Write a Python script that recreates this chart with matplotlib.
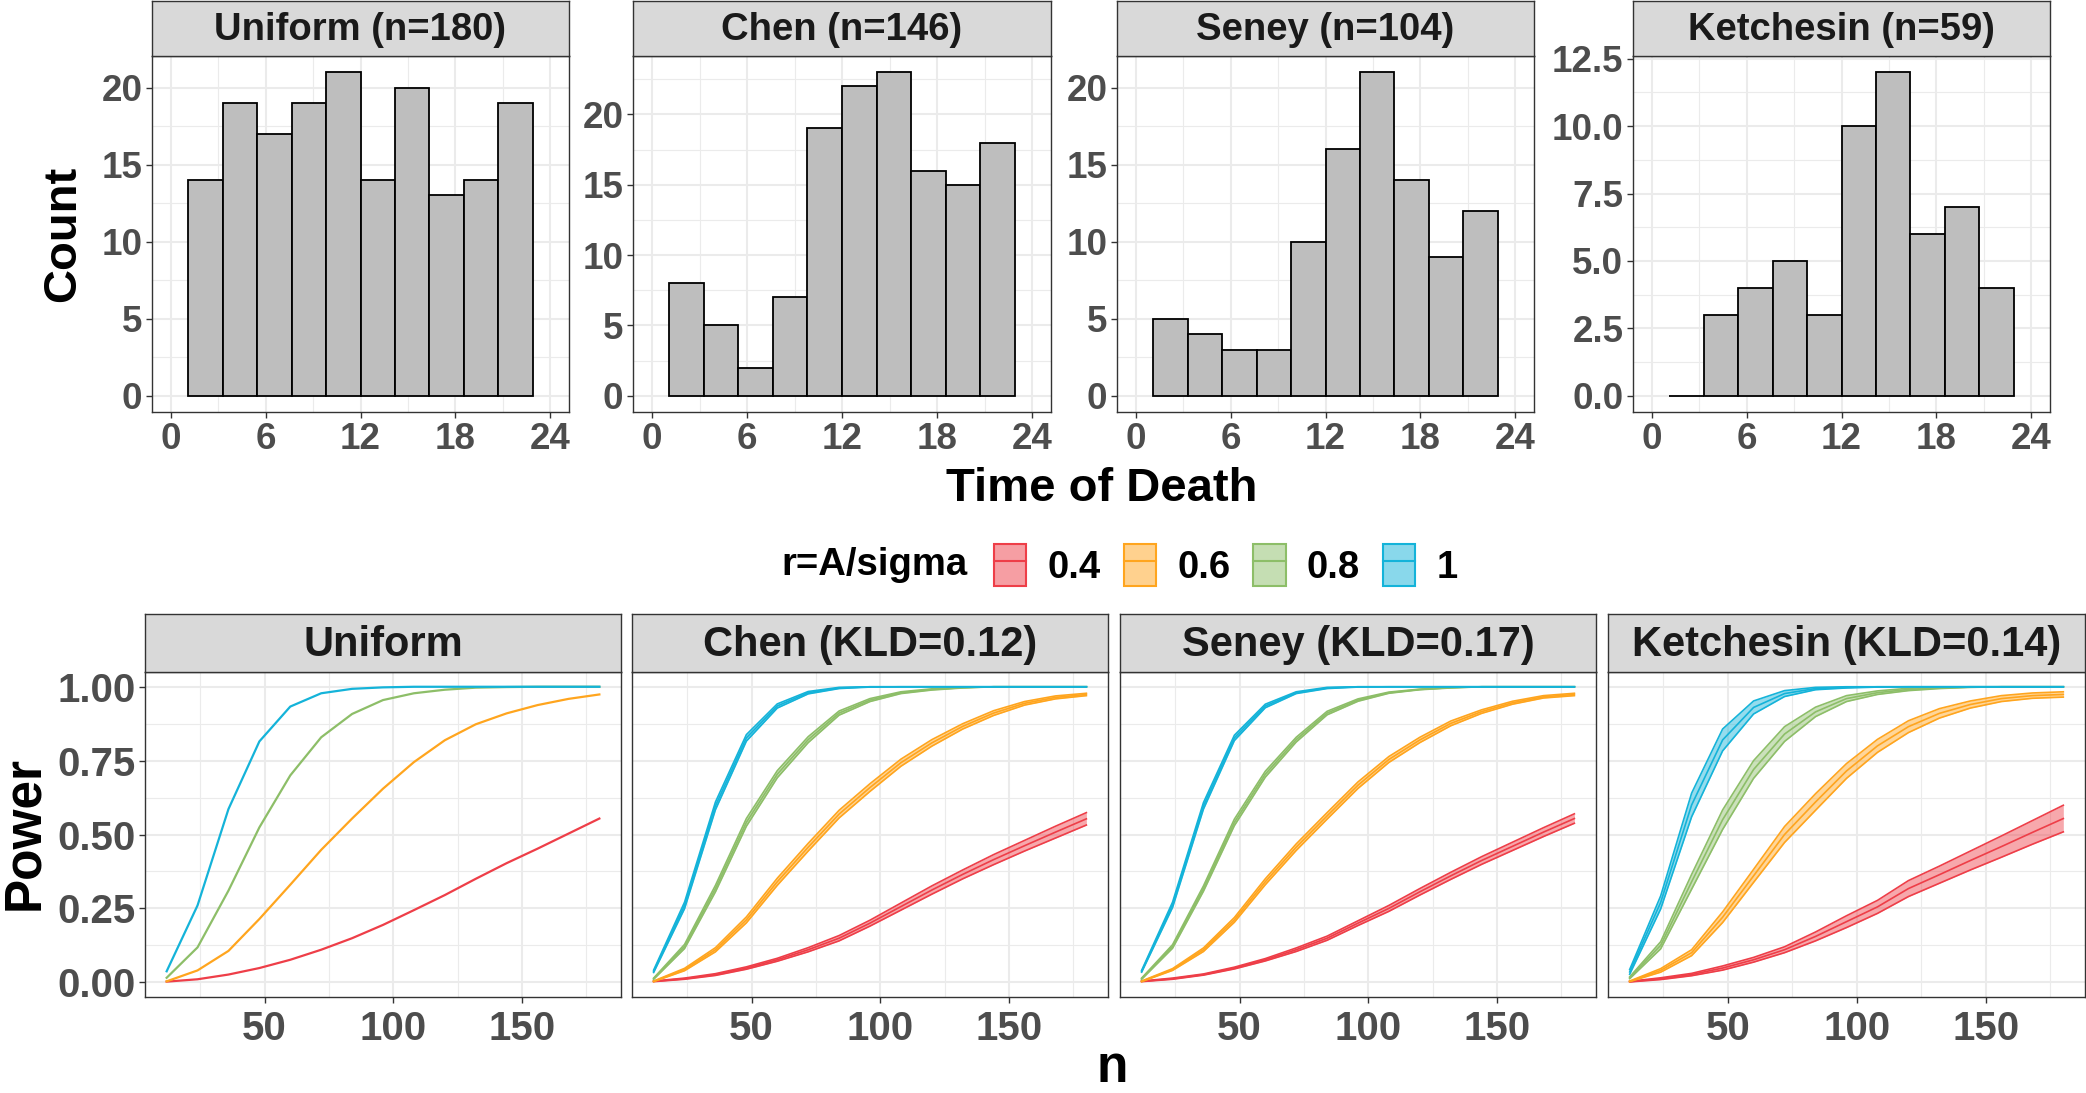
import numpy as np
import matplotlib
matplotlib.use('Agg')
import matplotlib.pyplot as plt
from matplotlib.patches import Patch
from matplotlib.lines import Line2D
from matplotlib.legend_handler import HandlerTuple
from matplotlib.ticker import MultipleLocator

plt.rcParams['font.family'] = ['Liberation Sans', 'DejaVu Sans']
plt.rcParams['font.weight'] = 'bold'

# ---- top row: histograms of time of death ----
hist_titles = ['Uniform (n=180)', 'Chen (n=146)', 'Seney (n=104)', 'Ketchesin (n=59)']
bin_edges = [1.1, 3.28, 5.46, 7.64, 9.82, 12.0, 14.18, 16.36, 18.54, 20.72, 22.9]
uniform_counts = [14, 19, 17, 19, 21, 14, 20, 13, 14, 19]
chen_counts = [8, 5, 2, 7, 19, 22, 23, 16, 15, 18]
seney_counts = [5, 4, 3, 3, 10, 16, 21, 14, 9, 12]
ketchesin_counts = [0, 3, 4, 5, 3, 10, 12, 6, 7, 4]
hist_yticks = [[0, 5, 10, 15, 20], [0, 5, 10, 15, 20], [0, 5, 10, 15, 20],
               [0.0, 2.5, 5.0, 7.5, 10.0, 12.5]]

# ---- bottom row: power curves ----
power_titles = ['Uniform', 'Chen (KLD=0.12)', 'Seney (KLD=0.17)', 'Ketchesin (KLD=0.14)']
r_labels = ['0.4', '0.6', '0.8', '1']
r_colors = ['#EE3E48', '#FFA51E', '#8DBE68', '#14B3D9']
n_sizes = [12, 24, 36, 48, 60, 72, 84, 96, 108, 120, 132, 144, 156, 168, 180]

uniform_power = [
    [0.002, 0.010, 0.026, 0.048, 0.076, 0.110, 0.149, 0.194, 0.244, 0.295, 0.350, 0.403, 0.452, 0.503, 0.554],
    [0.003, 0.040, 0.106, 0.214, 0.330, 0.448, 0.554, 0.655, 0.745, 0.819, 0.873, 0.910, 0.938, 0.959, 0.974],
    [0.015, 0.118, 0.310, 0.524, 0.700, 0.829, 0.908, 0.955, 0.978, 0.990, 0.997, 0.999, 1.000, 1.000, 1.000],
    [0.037, 0.260, 0.586, 0.815, 0.933, 0.978, 0.993, 0.998, 1.000, 1.000, 1.000, 1.000, 1.000, 1.000, 1.000],
]
chen_power = [
    [0.003, 0.012, 0.026, 0.048, 0.076, 0.110, 0.149, 0.200, 0.256, 0.312, 0.365, 0.415, 0.462, 0.508, 0.553],
    [0.003, 0.043, 0.110, 0.211, 0.340, 0.457, 0.569, 0.659, 0.743, 0.810, 0.866, 0.911, 0.944, 0.964, 0.974],
    [0.012, 0.121, 0.317, 0.541, 0.704, 0.821, 0.911, 0.955, 0.980, 0.991, 0.997, 1.000, 1.000, 1.000, 1.000],
    [0.037, 0.260, 0.597, 0.827, 0.935, 0.980, 0.996, 1.000, 1.000, 1.000, 1.000, 1.000, 1.000, 1.000, 1.000],
]
seney_power = [
    [0.003, 0.012, 0.026, 0.048, 0.076, 0.110, 0.149, 0.200, 0.250, 0.306, 0.360, 0.412, 0.460, 0.508, 0.554],
    [0.003, 0.043, 0.110, 0.211, 0.340, 0.457, 0.563, 0.667, 0.754, 0.820, 0.876, 0.916, 0.946, 0.966, 0.974],
    [0.012, 0.121, 0.317, 0.541, 0.704, 0.821, 0.911, 0.955, 0.980, 0.991, 0.997, 1.000, 1.000, 1.000, 1.000],
    [0.037, 0.262, 0.597, 0.827, 0.935, 0.980, 0.996, 1.000, 1.000, 1.000, 1.000, 1.000, 1.000, 1.000, 1.000],
]
ketchesin_power = [
    [0.002, 0.012, 0.026, 0.048, 0.076, 0.110, 0.155, 0.205, 0.255, 0.317, 0.364, 0.412, 0.459, 0.507, 0.554],
    [0.003, 0.040, 0.100, 0.220, 0.360, 0.500, 0.610, 0.715, 0.800, 0.865, 0.910, 0.940, 0.960, 0.970, 0.974],
    [0.015, 0.125, 0.340, 0.550, 0.720, 0.840, 0.915, 0.960, 0.980, 0.991, 0.996, 0.999, 1.000, 1.000, 1.000],
    [0.035, 0.270, 0.600, 0.820, 0.930, 0.977, 0.994, 0.998, 1.000, 1.000, 1.000, 1.000, 1.000, 1.000, 1.000],
]

# half widths of the uncertainty bands (Uniform has none)
uniform_hw = None
chen_hw = [
    [0.001, 0.002, 0.003, 0.004, 0.005, 0.007, 0.009, 0.010, 0.012, 0.014, 0.015, 0.017, 0.018, 0.020, 0.021],
    [0.001, 0.004, 0.007, 0.010, 0.012, 0.013, 0.013, 0.013, 0.012, 0.011, 0.009, 0.008, 0.006, 0.005, 0.004],
    [0.002, 0.007, 0.011, 0.013, 0.012, 0.010, 0.007, 0.005, 0.003, 0.002, 0.001, 0.000, 0.000, 0.000, 0.000],
    [0.004, 0.011, 0.013, 0.011, 0.007, 0.004, 0.002, 0.001, 0.000, 0.000, 0.000, 0.000, 0.000, 0.000, 0.000],
]
seney_hw = [
    [0.001, 0.002, 0.002, 0.003, 0.004, 0.006, 0.007, 0.008, 0.010, 0.011, 0.012, 0.013, 0.014, 0.015, 0.016],
    [0.001, 0.003, 0.006, 0.008, 0.010, 0.011, 0.011, 0.011, 0.010, 0.009, 0.008, 0.006, 0.005, 0.004, 0.004],
    [0.002, 0.006, 0.009, 0.011, 0.010, 0.008, 0.006, 0.004, 0.002, 0.001, 0.001, 0.000, 0.000, 0.000, 0.000],
    [0.003, 0.009, 0.011, 0.009, 0.006, 0.003, 0.002, 0.001, 0.000, 0.000, 0.000, 0.000, 0.000, 0.000, 0.000],
]
ketchesin_hw = [
    [0.001, 0.003, 0.004, 0.007, 0.008, 0.010, 0.015, 0.020, 0.022, 0.027, 0.029, 0.032, 0.036, 0.040, 0.045],
    [0.001, 0.006, 0.010, 0.018, 0.022, 0.027, 0.028, 0.025, 0.022, 0.020, 0.016, 0.012, 0.010, 0.009, 0.009],
    [0.003, 0.012, 0.025, 0.033, 0.030, 0.025, 0.016, 0.010, 0.006, 0.004, 0.002, 0.001, 0.000, 0.000, 0.000],
    [0.008, 0.022, 0.040, 0.037, 0.022, 0.010, 0.004, 0.002, 0.001, 0.000, 0.000, 0.000, 0.000, 0.000, 0.000],
]

W, H = 2086, 1093
fig = plt.figure(figsize=(W / 100, H / 100), dpi=100)


def rect(x0, x1, y0, y1):
    return [x0 / W, 1 - y1 / H, (x1 - x0) / W, (y1 - y0) / H]


def style_panel(ax):
    ax.set_facecolor('white')
    for s in ax.spines.values():
        s.set_color('#333333')
        s.set_linewidth(1.0)
    ax.grid(True, which='major', color='#EBEBEB', lw=1.5, zorder=0)
    ax.grid(True, which='minor', color='#EBEBEB', lw=0.8, zorder=0)
    ax.set_axisbelow(True)
    ax.tick_params(which='major', length=4, width=1.0, color='#333333',
                   labelcolor='#4D4D4D', pad=3)
    ax.tick_params(which='minor', length=0)


def strip(x0, x1, y0, y1, text, size):
    sax = fig.add_axes(rect(x0, x1, y0, y1))
    sax.set_facecolor('#D9D9D9')
    sax.set_xticks([]); sax.set_yticks([])
    for s in sax.spines.values():
        s.set_color('#333333')
        s.set_linewidth(1.0)
    sax.text(0.5, 0.47, text, ha='center', va='center', fontsize=size,
             fontweight='bold', color='#1A1A1A', transform=sax.transAxes)


# top row
top_x = [(152, 569), (633, 1051), (1117, 1534), (1633, 2050)]
all_counts = [uniform_counts, chen_counts, seney_counts, ketchesin_counts]
bin_width = bin_edges[1] - bin_edges[0]
for i, (x0, x1) in enumerate(top_x):
    ax = fig.add_axes(rect(x0, x1, 56, 412))
    style_panel(ax)
    counts = all_counts[i]
    ax.bar(bin_edges[:-1], counts, width=bin_width, align='edge',
           color='#BEBEBE', edgecolor='black', linewidth=1.3, zorder=2)
    top = max(counts)
    ax.set_ylim(-0.05 * top, 1.05 * top)
    ax.set_xlim(-1.2, 25.2)
    ax.set_xticks([0, 6, 12, 18, 24])
    ax.xaxis.set_minor_locator(MultipleLocator(3))
    ax.set_yticks(hist_yticks[i])
    step = hist_yticks[i][1] - hist_yticks[i][0]
    ax.yaxis.set_minor_locator(MultipleLocator(step / 2))
    ax.tick_params(labelsize=26.5)
    strip(x0, x1, 1, 56, hist_titles[i], 27.5)

fig.text(63 / W, 1 - 234 / H, 'Count', rotation=90, ha='center', va='center',
         fontsize=34, fontweight='bold')
fig.text(1102 / W, 1 - 489 / H, 'Time of Death', ha='center', va='center',
         fontsize=34, fontweight='bold')

# bottom row
bot_x = [(145, 621), (632, 1108), (1120, 1596), (1608, 2085)]
all_power = [uniform_power, chen_power, seney_power, ketchesin_power]
all_hw = [uniform_hw, chen_hw, seney_hw, ketchesin_hw]
n_arr = np.array(n_sizes)
for i, (x0, x1) in enumerate(bot_x):
    ax = fig.add_axes(rect(x0, x1, 672, 997))
    style_panel(ax)
    for k in range(4):
        mean = np.array(all_power[i][k])
        col = r_colors[k]
        if all_hw[i] is None:
            ax.plot(n_arr, mean, color=col, lw=1.6, zorder=3 + k)
        else:
            hw = np.array(all_hw[i][k])
            lo = np.clip(mean - hw, 0, 1)
            hi = np.clip(mean + hw, 0, 1)
            ax.fill_between(n_arr, lo, hi, color=col, alpha=0.45, lw=0, zorder=3 + k)
            ax.plot(n_arr, lo, color=col, lw=1.2, zorder=3 + k)
            ax.plot(n_arr, hi, color=col, lw=1.2, zorder=3 + k)
            ax.plot(n_arr, mean, color=col, lw=1.2, zorder=3 + k)
    ax.set_xlim(3.6, 188.4)
    ax.set_ylim(-0.05, 1.05)
    ax.set_xticks([50, 100, 150])
    ax.xaxis.set_minor_locator(MultipleLocator(25))
    ax.set_yticks([0, 0.25, 0.5, 0.75, 1.0])
    ax.yaxis.set_minor_locator(MultipleLocator(0.125))
    ax.tick_params(labelsize=29)
    ax.tick_params(axis='x', pad=5)
    if i == 0:
        ax.set_yticklabels(['0.00', '0.25', '0.50', '0.75', '1.00'])
    else:
        ax.tick_params(axis='y', which='both', left=False, labelleft=False)
    strip(x0, x1, 614, 672, power_titles[i], 30)

fig.text(25 / W, 1 - 833 / H, 'Power', rotation=90, ha='center', va='center',
         fontsize=37, fontweight='bold')
fig.text(1112 / W, 1 - 1068 / H, 'n', ha='center', va='center',
         fontsize=37, fontweight='bold')

# legend
handles = []
for col in r_colors:
    p = Patch(facecolor=col, alpha=0.5, edgecolor='none')
    e = Patch(facecolor='none', edgecolor=col, linewidth=1.5)
    l = Line2D([0], [0], color=col, lw=1.5)
    handles.append((p, e, l))
fig.text(874 / W, 1 - 565 / H, 'r=A/sigma', ha='center', va='center',
         fontsize=27.5, fontweight='bold')
fig.legend(handles, r_labels, loc='center left',
           bbox_to_anchor=(994 / W, 1 - 565 / H), ncol=4, frameon=False,
           fontsize=27.5, handlelength=0.85, handleheight=1.3,
           handletextpad=0.55, columnspacing=0.6, borderpad=0, borderaxespad=0,
           handler_map={tuple: HandlerTuple(ndivide=1)})

fig.savefig('out.png', dpi=100)
